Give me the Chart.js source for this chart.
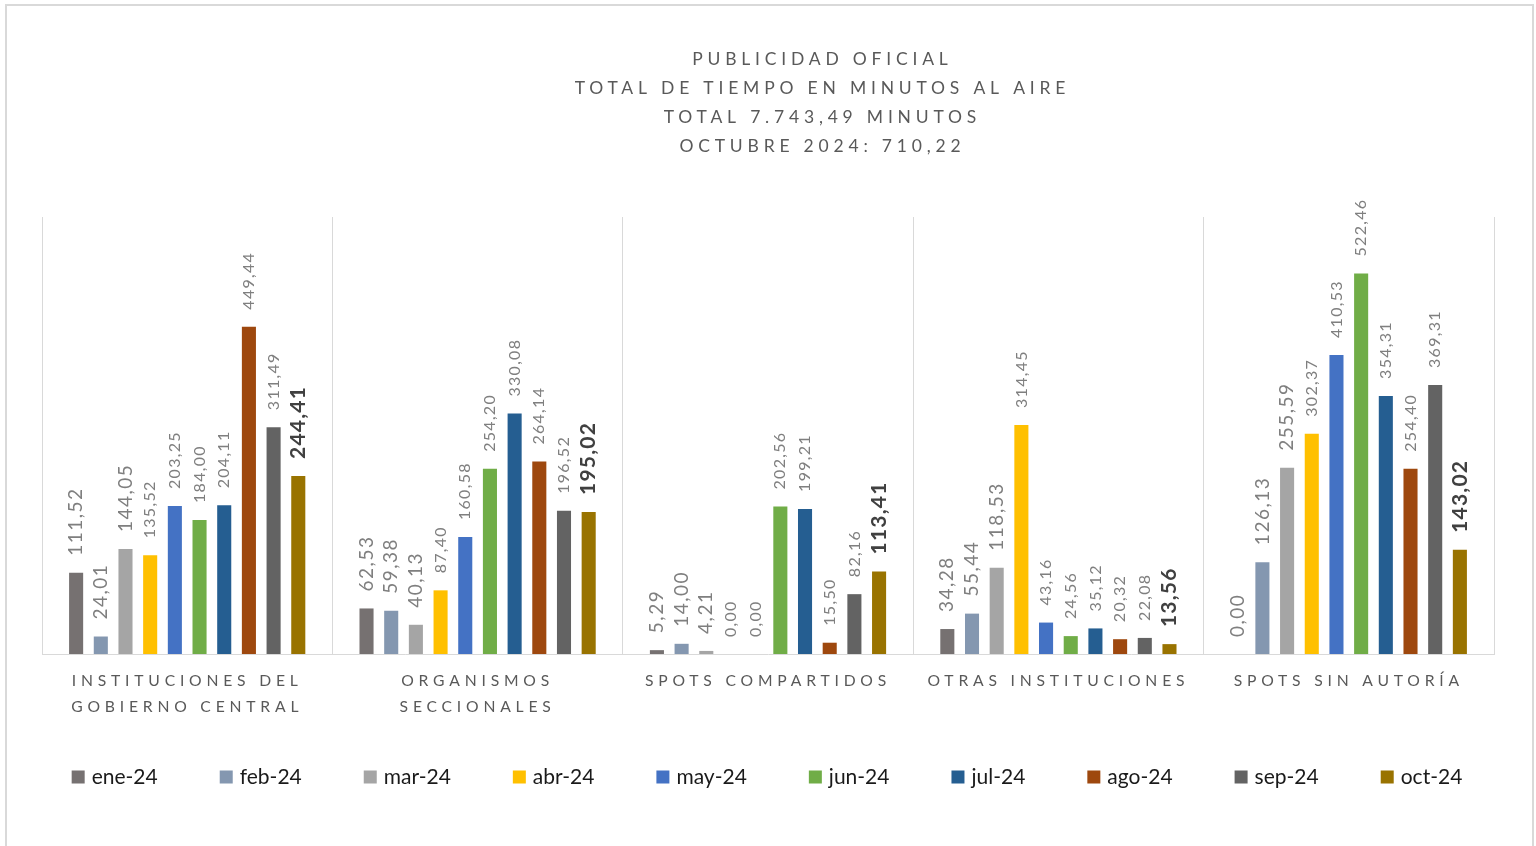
<!DOCTYPE html>
<html><head><meta charset="utf-8">
<script src="https://cdn.jsdelivr.net/npm/chart.js@4.4.1/dist/chart.umd.min.js"></script>
<style>
html,body{margin:0;padding:0;background:#fff;overflow:hidden;width:1536px;height:846px}
#frame{position:absolute;left:5px;top:4px;width:1529px;height:900px;border:2px solid #d9d9d9;box-sizing:border-box}
#c{position:absolute;left:0;top:0}
</style></head><body>
<div id="frame"></div>
<canvas id="c" width="1536" height="846"></canvas>
<script>
// ---- data ----
const categories = [['INSTITUCIONES DEL','GOBIERNO CENTRAL'],['ORGANISMOS','SECCIONALES'],'SPOTS COMPARTIDOS','OTRAS INSTITUCIONES','SPOTS SIN AUTORÍA'];
const months = ['ene-24','feb-24','mar-24','abr-24','may-24','jun-24','jul-24','ago-24','sep-24','oct-24'];
const ene24 = [111.52, 62.53, 5.29, 34.28, 0.00];
const feb24 = [24.01, 59.38, 14.00, 55.44, 126.13];
const mar24 = [144.05, 40.13, 4.21, 118.53, 255.59];
const abr24 = [135.52, 87.40, 0.00, 314.45, 302.37];
const may24 = [203.25, 160.58, 0.00, 43.16, 410.53];
const jun24 = [184.00, 254.20, 202.56, 24.56, 522.46];
const jul24 = [204.11, 330.08, 199.21, 35.12, 354.31];
const ago24 = [449.44, 264.14, 15.50, 20.32, 254.40];
const sep24 = [311.49, 196.52, 82.16, 22.08, 369.31];
const oct24 = [244.41, 195.02, 113.41, 13.56, 143.02];
const titleLines = ['PUBLICIDAD OFICIAL','TOTAL DE TIEMPO EN MINUTOS AL AIRE','TOTAL 7.743,49 MINUTOS','OCTUBRE 2024: 710,22'];
const yMin = 0, yMax = 600;

// ---- styles ----
const seriesValues = [ene24, feb24, mar24, abr24, may24, jun24, jul24, ago24, sep24, oct24];
const colors = ['#767171','#8497B0','#A5A5A5','#FFC000','#4472C4','#70AD47','#255E91','#9E480E','#636363','#997300'];
const FONT = 'Lato, "Open Sans", sans-serif';
const SPACING = 4.8;

function fmt(v){ return v.toFixed(2).replace('.', ','); }
function labelStyle(i){
  if (i === 9) return {font: '700 21px ' + FONT, color: '#404040', ls: '1.2px'};
  if (i < 3) return {font: '400 19px ' + FONT, color: '#7f7f7f', ls: '1.5px'};
  return {font: '400 16px ' + FONT, color: '#7f7f7f', ls: '1.3px'};
}

const spacedTitle = {
  id: 'spacedTitle',
  beforeDraw(chart){
    const ctx = chart.ctx;
    ctx.save();
    ctx.letterSpacing = SPACING + 'px';
    ctx.font = '400 17.5px ' + FONT;
    ctx.fillStyle = '#595959';
    ctx.textAlign = 'center';
    ctx.textBaseline = 'middle';
    const cx = chart.width / 2 + 52 + SPACING / 2;
    titleLines.forEach((line, i) => ctx.fillText(line, cx, 59 + i * 29));
    ctx.restore();
    ctx.letterSpacing = SPACING + 'px';
  },
  beforeDatasetsDraw(chart){ chart.ctx.letterSpacing = '0px'; }
};

const valueLabels = {
  id: 'valueLabels',
  afterDatasetsDraw(chart){
    const ctx = chart.ctx;
    chart.data.datasets.forEach((ds, i) => {
      const meta = chart.getDatasetMeta(i);
      const st = labelStyle(i);
      meta.data.forEach((bar, j) => {
        ctx.save();
        ctx.letterSpacing = st.ls;
        ctx.font = st.font;
        ctx.fillStyle = st.color;
        ctx.translate(bar.x, bar.y - 17);
        ctx.rotate(-Math.PI / 2);
        ctx.textAlign = 'left';
        ctx.textBaseline = 'middle';
        ctx.fillText(fmt(ds.data[j]), 0, 0);
        ctx.restore();
      });
    });
  }
};

const customLegend = {
  id: 'customLegend',
  afterDraw(chart){
    const ctx = chart.ctx;
    ctx.save();
    ctx.letterSpacing = '0px';
    ctx.font = '400 21px ' + FONT;
    const box = 13, gap = 7, spacing = 62;
    const items = chart.data.datasets.map(ds => ({text: ds.label, color: ds.backgroundColor, w: ctx.measureText(ds.label).width}));
    const total = items.reduce((s, it) => s + box + gap + it.w, 0) + spacing * (items.length - 1);
    let x = chart.width / 2 - total / 2 - 1;
    const y = chart.height - 69;
    ctx.textBaseline = 'middle';
    ctx.textAlign = 'left';
    items.forEach(it => {
      ctx.fillStyle = it.color;
      ctx.fillRect(x, y - box / 2, box, box);
      ctx.fillStyle = '#1a1a1a';
      ctx.fillText(it.text, x + box + gap, y);
      x += box + gap + it.w + spacing;
    });
    ctx.restore();
  }
};

new Chart(document.getElementById('c'), {
  type: 'bar',
  data: {
    labels: categories,
    datasets: months.map((m, i) => ({
      label: m,
      data: seriesValues[i],
      backgroundColor: colors[i],
      borderWidth: 0,
      categoryPercentage: 0.85,
      barPercentage: 0.57
    }))
  },
  options: {
    responsive: false,
    animation: false,
    devicePixelRatio: 1,
    layout: {padding: {left: 42, right: 42, top: 217, bottom: 112}},
    plugins: {
      legend: {display: false},
      tooltip: {enabled: false},
      title: {display: false}
    },
    scales: {
      x: {
        grid: {display: true, color: '#d9d9d9', lineWidth: 1, offset: true, drawTicks: false},
        border: {display: true, color: '#d9d9d9', width: 1},
        ticks: {color: '#595959', font: {family: FONT, size: 15.7, lineHeight: 26 / 15.7}, padding: 14, autoSkip: false, maxRotation: 0, minRotation: 0}
      },
      y: {display: false, min: yMin, max: yMax}
    }
  },
  plugins: [spacedTitle, valueLabels, customLegend]
});
</script>
</body></html>
